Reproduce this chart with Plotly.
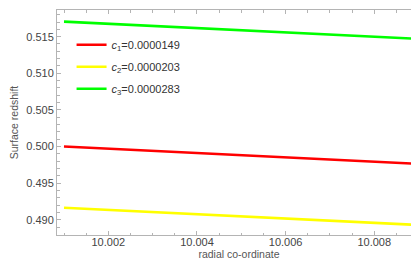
import plotly.graph_objects as go

x_vals = [10.001, 10.009]
red_vals = [0.5000, 0.49763]
yellow_vals = [0.49164, 0.48928]
green_vals = [0.51705, 0.51469]
names = ["<i>c</i><sub>1</sub>=0.0000149",
         "<i>c</i><sub>2</sub>=0.0000203",
         "<i>c</i><sub>3</sub>=0.0000283"]
colors = ["#FF0000", "#FFFF00", "#00FF00"]
series = [red_vals, yellow_vals, green_vals]

fig = go.Figure()
for i, (vals, nm, col) in enumerate(zip(series, names, colors)):
    fig.add_trace(go.Scatter(x=x_vals, y=vals, mode="lines", name=nm,
                             legendgroup=f"g{i}",
                             line=dict(color=col, width=2.6)))

frame_col = "#b4b4b4"
font_fam = "Liberation Sans, Arial, sans-serif"
axis_common = dict(showgrid=False, zeroline=False, showline=True,
                   linecolor=frame_col, linewidth=1, mirror="ticks",
                   ticks="inside", ticklen=4, tickcolor=frame_col, automargin=False,
                   tickfont=dict(family=font_fam, size=11, color="#444"))

fig.update_xaxes(range=[10.000842, 10.009054], tick0=10.002, dtick=0.002,
                 tickformat=".3f", ticklabelstandoff=-3,
                 minor=dict(dtick=0.0005, ticklen=2.5, tickcolor=frame_col, ticks="inside"),
                 title=dict(text="radial co-ordinate", standoff=1,
                            font=dict(family=font_fam, size=10.5, color="#555")),
                 **axis_common)
fig.update_yaxes(range=[0.48791, 0.51864], tick0=0.49, dtick=0.005,
                 tickformat=".3f",
                 minor=dict(dtick=0.001, ticklen=2.5, tickcolor=frame_col, ticks="inside"),
                 title=dict(text="Surface redshift", standoff=6,
                            font=dict(family=font_fam, size=10.5, color="#555")),
                 **axis_common)

fig.update_layout(
    width=419, height=263,
    margin=dict(l=49, r=6, t=2, b=36),
    paper_bgcolor="white", plot_bgcolor="white",
    showlegend=True,
    legend=dict(x=0.04, y=0.91, xanchor="left", yanchor="top",
                bgcolor="rgba(0,0,0,0)", tracegroupgap=3,
                font=dict(family=font_fam, size=11, color="#333")),
)

fig.write_html("out.html")
